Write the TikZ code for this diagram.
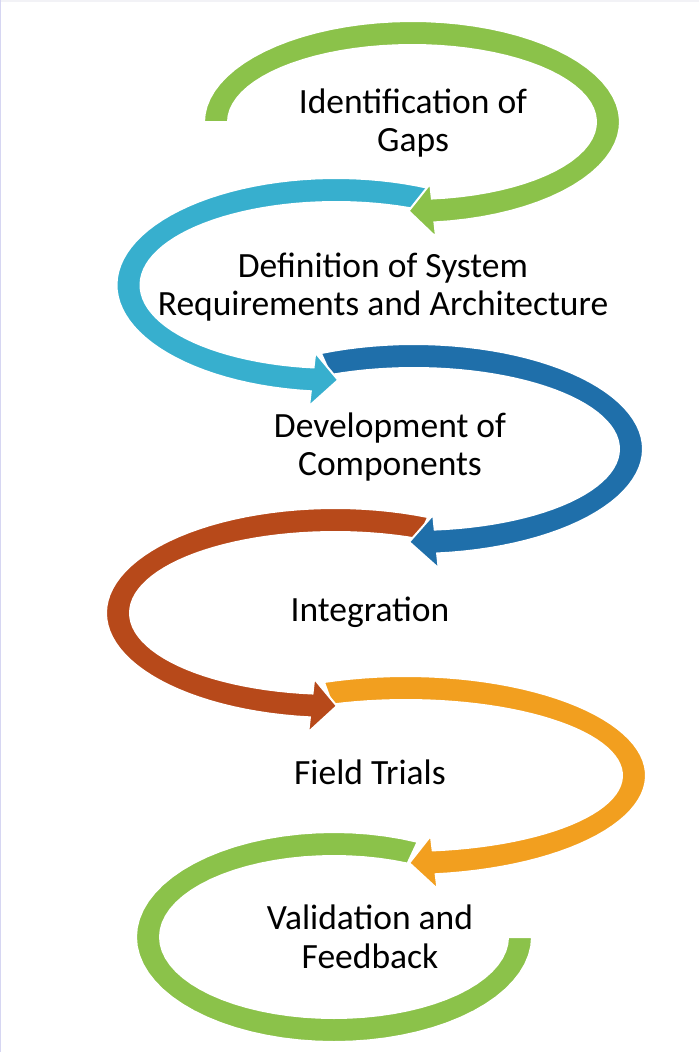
\documentclass[tikz,border=0pt]{standalone}
\usepackage{fontspec}
\setmainfont{Carlito}
\usepackage{tikz}

\definecolor{leafgreen}{HTML}{8BC24A}
\definecolor{skycyan}{HTML}{37AFCE}
\definecolor{deepblue}{HTML}{1F6FAA}
\definecolor{rustred}{HTML}{B7491A}
\definecolor{amber}{HTML}{F29F1F}
\definecolor{pagegray}{HTML}{F2F2F6}
\definecolor{pagelilac}{HTML}{D6D6F2}

% colour, cx, cy, rx, ry, start angle, head angle, tip angle
\newcommand{\loopshape}[8]{%
    \pgfmathsetmacro\rxo{#4+12}\pgfmathsetmacro\ryo{#5+12}%
    \pgfmathsetmacro\rxi{#4-12}\pgfmathsetmacro\ryi{#5-12}%
    \pgfmathsetmacro\rxh{#4+27}\pgfmathsetmacro\ryh{#5+27}%
    \pgfmathsetmacro\rxg{#4-27}\pgfmathsetmacro\ryg{#5-27}%
    \filldraw[arrowband, fill=#1]
        plot[domain=#6:#7] ({#2+\rxo*cos(\x)},{#3+\ryo*sin(\x)})
        -- ({#2+\rxh*cos(#7)},{#3+\ryh*sin(#7)})
        -- ({#2+#4*cos(#8)},{#3+#5*sin(#8)})
        -- ({#2+\rxg*cos(#7)},{#3+\ryg*sin(#7)})
        -- plot[domain=#7:#6] ({#2+\rxi*cos(\x)},{#3+\ryi*sin(\x)})
        -- cycle;}

\begin{document}
\begin{tikzpicture}[x=1pt, y=-1pt,
        arrowband/.style={draw=white, line width=2pt, line join=miter, samples=60},
        steplabel/.style={font=\fontsize{35.5}{38.5}\selectfont, align=center, text=black}]
    \useasboundingbox (0,0) rectangle (699,1052);
    \fill[white] (0,0) rectangle (699,1052);
    \fill[pagegray] (0,0) rectangle (699,2);
    \fill[pagelilac] (0,0) rectangle (1.2,1052);

    % drawn bottom up, so each head lies over the next band
    \filldraw[arrowband, fill=leafgreen]
        plot[domain=295:0] ({334+198*cos(\x)},{937+105*sin(\x)})
        -- plot[domain=0:295] ({334+174*cos(\x)},{937+81*sin(\x)}) -- cycle;
    \loopshape{amber}{406}{775.5}{228}{87.5}{250}{442.9}{449.2}
    \loopshape{rustred}{335}{613}{217}{93}{294}{96.3}{89.5}
    \loopshape{deepblue}{414}{449}{217}{93}{246}{444.2}{451.3}
    \loopshape{skycyan}{336}{285}{207.5}{95}{295}{96.6}{89.4}
    \loopshape{leafgreen}{412}{122}{196}{89}{180}{443.8}{451}

    \node[steplabel] (gaps) at (413,123) {Identification of\\Gaps};
    \node[steplabel] (reqs) at (383,287) {Definition of System\\Requirements and Architecture};
    \node[steplabel] (comps) at (390,447) {Development of\\Components};
    \node[steplabel] (integ) at (370,612) {Integration};
    \node[steplabel] (trials) at (370,772) {Field Trials};
    \node[steplabel] (valid) at (370,937) {Validation and\\Feedback};
\end{tikzpicture}
\end{document}
